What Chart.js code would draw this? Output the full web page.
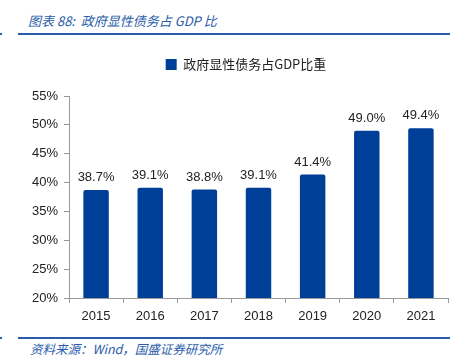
<!DOCTYPE html>
<html>
<head>
<meta charset="utf-8">
<script src="https://cdn.jsdelivr.net/npm/chart.js@4"></script>
<style>
  body { margin: 0; background: #fff; width: 464px; height: 362px; position: relative; overflow: hidden; }
  .title { position: absolute; left: 28px; top: 12px; font: italic 13px "Noto Sans CJK SC", sans-serif; color: #2a5caa; line-height: 18px; }
  .src { position: absolute; left: 30px; top: 341px; font: italic 12.5px "Noto Sans CJK SC", sans-serif; color: #2a5caa; line-height: 16px; }
  .rule { position: absolute; left: 18px; width: 432px; height: 2px; background: #2a5caa; }
  .dot { position: absolute; left: 0; width: 2px; height: 2px; background: #2a5caa; }
  #wrap { position: absolute; left: 0; top: 40px; width: 464px; height: 296px; }
</style>
</head>
<body>
<div class="title">图表 88:&nbsp; 政府显性债务占 GDP 比</div>
<div class="dot" style="top:33px"></div>
<div class="rule" style="top:33px"></div>
<div id="wrap"><canvas id="c"></canvas></div>
<div class="dot" style="top:337px"></div>
<div class="rule" style="top:337px"></div>
<div class="src">资料来源：Wind，国盛证券研究所</div>
<script>
const years = ['2015', '2016', '2017', '2018', '2019', '2020', '2021'];
const debtRatio = [38.7, 39.1, 38.8, 39.1, 41.4, 49.0, 49.4];
const seriesName = '政府显性债务占GDP比重';
const yMin = 20, yMax = 55, yStep = 5;

// value labels above each bar
const barLabels = {
  id: 'barLabels',
  afterDatasetsDraw(chart) {
    const ctx = chart.ctx;
    const meta = chart.getDatasetMeta(0);
    ctx.save();
    ctx.font = '13px "Liberation Sans", Arial, sans-serif';
    ctx.fillStyle = '#222';
    ctx.textAlign = 'center';
    ctx.textBaseline = 'bottom';
    meta.data.forEach((bar, i) => {
      ctx.fillText(debtRatio[i].toFixed(1) + '%', bar.x, bar.y - 6);
    });
    ctx.restore();
  }
};

// extra room between legend and plot, legend nudged right
const legendGap = {
  id: 'legendGap',
  beforeInit(chart) {
    const fit = chart.legend.fit;
    chart.legend.fit = function () {
      fit.call(this);
      this.height += 15;
    };
  },
  afterLayout(chart) {
    chart.legend.left += 22;
    chart.legend.right += 22;
  }
};

new Chart(document.getElementById('c'), {
  type: 'bar',
  data: {
    labels: years,
    datasets: [{
      label: seriesName,
      data: debtRatio,
      backgroundColor: '#003f98',
      borderRadius: 2,
      borderSkipped: 'bottom',
      barPercentage: 0.47,
      categoryPercentage: 1
    }]
  },
  options: {
    responsive: true,
    maintainAspectRatio: false,
    animation: false,
    layout: { padding: { left: 0, right: 16, top: 0, bottom: 0 } },
    plugins: {
      tooltip: { enabled: false },
      legend: {
        display: true,
        labels: {
          font: { family: '"Noto Sans CJK SC", sans-serif', size: 13 },
          color: '#222',
          boxWidth: 11,
          boxHeight: 11,
          padding: 18
        }
      }
    },
    scales: {
      x: {
        grid: { display: true, drawOnChartArea: false, drawTicks: true, tickLength: 5, color: '#999', offset: true },
        border: { color: '#999' },
        ticks: { font: { family: '"Liberation Sans", Arial, sans-serif', size: 13 }, color: '#222', padding: 6 },
        afterFit(s) { s.height = 38; }
      },
      y: {
        min: yMin,
        max: yMax,
        grid: { display: true, drawOnChartArea: false, drawTicks: true, tickLength: 5, color: '#999' },
        border: { color: '#999' },
        ticks: {
          stepSize: yStep,
          font: { family: '"Liberation Sans", Arial, sans-serif', size: 13 },
          color: '#222',
          padding: 6,
          callback: v => v + '%'
        },
        afterFit(s) { s.width = 69; }
      }
    }
  },
  plugins: [barLabels, legendGap]
});
</script>
</body>
</html>
